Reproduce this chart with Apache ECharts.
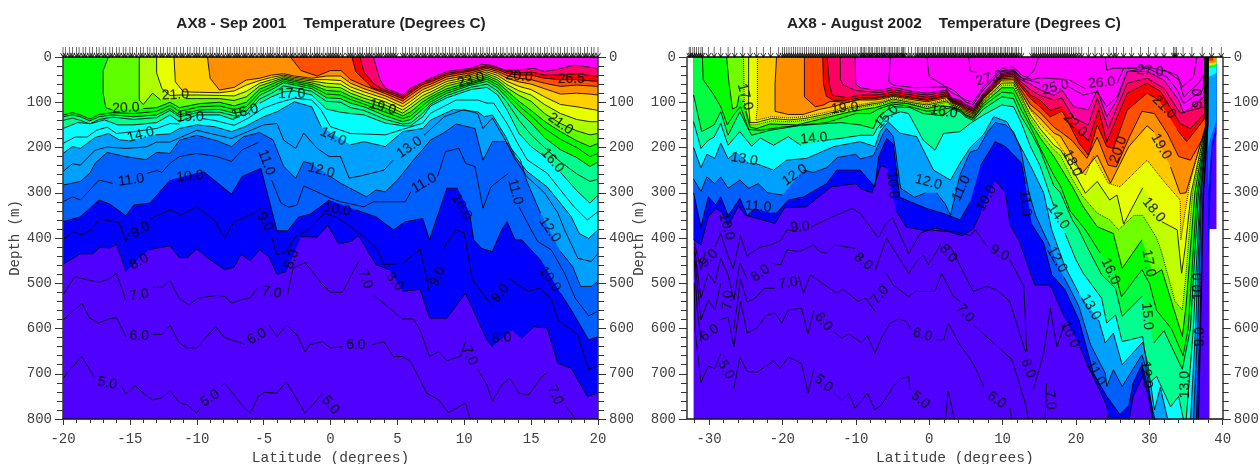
<!DOCTYPE html>
<html><head><meta charset="utf-8"><title>AX8 Temperature</title>
<style>html,body{margin:0;background:#fff}#c{width:1260px;height:464px}</style>
<script src="https://cdn.jsdelivr.net/npm/echarts@6/dist/echarts.min.js"></script></head>
<body><div id="c"></div>
<script>
const titleA='AX8 - Sep 2001    Temperature (Degrees C)';
const titleB='AX8 - August 2002    Temperature (Degrees C)';
const depthTicks=[0,100,200,300,400,500,600,700,800];
const latMajorA=[-20,-15,-10,-5,0,5,10,15,20];
const latMinorA=[-19,-18,-17,-16,-14,-13,-12,-11,-9,-8,-7,-6,-4,-3,-2,-1,1,2,3,4,6,7,8,9,11,12,13,14,16,17,18,19];
const latMajorB=[-30,-20,-10,0,10,20,30,40];
const latMinorB=[-32,-28,-26,-24,-22,-18,-16,-14,-12,-8,-6,-4,-2,2,4,6,8,12,14,16,18,22,24,26,28,32,34,36,38];

const stationsA=[-20,-19.8,-19.5,-19.3,-19,-18.8,-18.5,-18.3,-18,-17.8,-17.5,-17.3,-17,-16.8,-16.5,-16.3,-16,-15.8,-15.5,-15.3,-15,-14.8,-14.5,-14.2,-14,-13.7,-13.5,-13.2,-13,-12.7,-12.5,-12.2,-12,-11.7,-11.5,-11.2,-11,-10.7,-10.5,-10.2,-10,-9.8,-9.5,-9.3,-9,-8.8,-8.5,-8.3,-8,-7.7,-7.5,-7.2,-7,-6.8,-6.5,-6.3,-6,-5.8,-5.5,-5.2,-5,-4.7,-4.5,-4.3,-4,-3.8,-3.5,-3.3,-3,-2.8,-2.5,-2.2,-2,-1.8,-1.5,-1.2,-1,-0.8,-0.5,-0.2,0,0.2,0.4,0.6,0.9,1.3,1.5,1.7,2,2.2,2.4,2.7,2.9,3.1,3.4,3.6,3.8,4.1,4.3,4.5,4.7,4.9,5.4,5.6,5.9,6.1,6.4,6.6,6.9,7.1,7.4,7.6,7.9,8.1,8.4,8.6,8.9,9.1,9.4,9.6,9.9,10.1,10.4,10.7,10.9,11.2,11.4,11.7,11.9,12.2,12.4,12.7,12.9,13.2,13.5,13.7,14,14.2,14.5,14.7,15,15.2,15.5,15.7,16,16.2,16.5,16.7,17,17.2,17.5,17.7,18,18.2,18.5,18.7,19,19.2,19.5,19.7,20];
const stationsB=[-32.7,-32.5,-32.2,-32,-31.7,-31.4,-31.1,-30.9,-30.1,-29.3,-28.4,-27.4,-26.5,-25.4,-24.4,-23.5,-22.6,-21.6,-20.5,-20,-19.7,-19.4,-19.1,-18.8,-18.5,-18.2,-17.9,-17.6,-17.3,-17,-16.7,-16.4,-16.1,-15.8,-15.5,-15.2,-14.9,-14.6,-14.3,-14,-13.7,-13.4,-13.1,-12.8,-12.5,-12.2,-11.9,-11.6,-11.3,-11,-10.7,-10.4,-10.1,-9.8,-9.4,-9.2,-9,-8.8,-8.6,-8.3,-8.1,-7.9,-7.7,-7.4,-7.2,-7,-6.8,-6.5,-6.3,-6.1,-5.9,-5.6,-5.4,-5.2,-5,-4.7,-4.5,-4.3,-4.1,-3.8,-3.6,-3.5,-3.3,-2.8,-2.4,-1.9,-1.6,-1.4,-1.1,-0.9,-0.6,-0.4,-0.1,0.1,0.4,0.6,0.9,1.1,1.4,1.6,1.9,2.1,2.4,2.6,2.9,3.1,3.4,3.6,3.9,4.2,4.4,4.7,4.9,5.2,5.4,5.7,5.9,6.2,6.4,6.7,6.9,7.2,7.4,7.7,7.9,8.2,8.4,8.7,8.9,9.2,9.4,9.7,9.9,10.2,10.4,10.7,10.9,11.2,11.4,11.7,11.9,12.2,12.6,14,14.3,14.6,14.9,15.2,15.5,15.8,16.1,16.4,16.7,17,17.3,17.6,17.9,18.2,18.5,18.8,19.1,19.4,19.7,20,20.4,20.8,21.7,22.6,23.5,24.5,25.1,25.5,26.5,27.6,28.8,29.9,30.9,32,33.3,33.5,33.7,34.6,35.8,37.2,38.5,39.8];

/* Sep 2001 isotherms: [latitude, depth]; null = contour broken by its label */
const a05=[[-20,710],[-18.6,661],[-17.7,706],null,[-15.6,728],[-15.3,745],[-14.6,726],[-14,743],[-13.3,758],[-12.6,753],[-12,737],[-11.3,764],[-10.7,769],[-10,787],[-9.7,773],null,[-8.2,728],[-7.9,721],[-7.2,747],[-6.5,773],[-6,787],[-5.4,750],[-4.9,741],[-4,743],[-3.3,717],[-2.7,747],[-1.9,787],[-1,758],[-0.6,742],null,[0.8,810]];
const a06=[[-20,581],[-18.6,544],[-18,577],[-17.3,588],[-16.6,579],[-16,576],[-15.3,618],null,[-13.3,613],[-12.6,613],[-12,593],[-11.3,632],[-10.7,643],[-10,643],[-8.6,596],[-7.9,620],[-6.4,635],null,[-4.6,592],[-4,618],[-3.3,593],[-2.5,614],[-1.9,652],[-1.6,636],[-0.6,629],[0,643],[0.9,640],null,[3.1,636],[4,629],[4.7,662],[5.4,662],[6,673],[7.2,743],[8.1,758],[8.8,786],[10.1,765],[10.5,805]];
const a07=[[-20,526],[-19.1,485],[-18,494],[-17.3,498],[-16.6,491],[-16,478],[-15.3,538],null,[-13.3,509],[-12.6,509],[-12,494],[-11.3,534],[-10.6,548],[-9.9,533],[-8.5,527],[-7.9,529],[-7.4,544],[-6.7,537],[-6,532],[-5.4,509],null,[-3.2,523],[-2.8,467],[-1.9,454],[-0.7,500],[0,520],[0.9,520],[1.5,485],[2.1,453],null,[3.2,526],[4.4,555],[5.4,579],[6.2,579],[6.7,603],[7.4,662],[8.1,651],[8.7,671],[9.7,662],[10.1,629],null,[11,690],[11.7,725],[12.1,761],[12.8,725],[13.4,710],[14.1,743],[14.8,747],[15.7,710],[16.1,699],null,[17.6,772],[18.2,795],[18.4,810]];
const a08=[[-20,458],[-18.7,435],[-17.8,435],[-17.2,420],[-16.5,422],[-16,414],[-15.3,474],null,[-13.6,426],[-12,417],[-11.3,443],[-10.7,443],[-10,424],[-9,448],[-7.9,470],[-7.2,464],[-6.7,436],[-6,450],[-5.3,426],[-4.6,442],[-4,480],[-3.3,474],null,[-2.2,397],[-1,398],[-0.2,372],[0.6,413],[1.5,408],[2.1,395],[3.4,459],[4.4,470],null,[5.4,518],[6.7,513],[7.4,577],[8.7,577],[10.1,522],[11.7,625],[12.1,640],null,[13.6,603],[14.3,621],[15.2,596],[16.2,599],[17,677],[18,688],[19.2,750],[20,743]];
const a09=[[-20,404],[-19.3,386],[-18.6,393],[-17.9,382],[-17.3,358],[-15.8,366],[-15.3,408],[-15,386],null,[-13.5,357],[-12,338],[-11.2,349],[-10,331],[-8.7,360],[-7.9,400],[-7.2,364],[-5.7,345],[-5.2,334],null,[-4.4,397],[-4,437],[-3.3,430],[-2.7,400],[-1.5,378],[-0.5,345],[0.3,352],[1.5,375],[2.5,397],[3.5,426],[4,459],[5.4,456],[6.7,425],[7.4,518],null,[8.4,426],[9.4,382],[10,389],[10.6,492],[12.1,551],null,[13.3,489],[14.8,518],[15.6,511],[16.5,533],[17,581],[18.5,614],[19.3,691],[20,680]];
const a10=[[-20,364],[-18.7,353],[-17.3,316],[-16.5,325],[-15.3,351],[-14.7,327],[-13.5,323],[-12,272],null,[-9.5,253],[-7.4,303],[-6.6,264],[-5.2,246],[-4,384],[-3.2,384],[-2.4,354],[-1.5,347],[-0.1,316],null,[1.9,338],[3.4,353],[4.7,382],[5.6,364],[6.9,357],[7.4,404],[8.7,290],[9.5,290],null,[10.4,345],[10.7,404],[11.3,423],[12.1,430],[12.8,382],[13.2,364],[13.8,404],[14.3,404],[15.8,452],null,[17.2,522],[18,559],[19.3,625],[20,618]];
const a11=[[-20,320],[-19.3,309],[-18.7,316],[-17.3,272],[-16.3,279],null,[-13.7,257],[-13,251],[-12.6,255],[-12,235],[-11.3,220],[-10,213],[-8.5,220],[-7.4,231],[-6.6,205],[-5.4,189],null,[-4.4,272],[-3.7,323],[-3.1,332],[-2.5,327],[-2,285],[-1,298],[0,312],[0.75,320],[2.5,331],[3.2,320],[5.6,320],[6,298],null,[8,264],[8.6,209],[9.6,202],[10.1,235],[10.8,242],[11.4,334],[12,287],[13.3,257],null,[14.1,331],[15,382],[15.5,408],[16.5,426],[17.5,478],[18.3,533],[19.3,572],[20,562]];
const a12=[[-20,283],[-18.7,275],[-18,257],[-17.6,235],[-16.7,211],[-15.3,220],[-13.8,227],[-13,211],[-12,213],[-11.3,184],[-10,173],[-8.5,185],[-7.4,198],[-6.5,176],[-5.3,167],[-4.3,183],[-3.5,242],[-2.6,268],[-2,231],[-1.5,235],null,[0,264],[0.75,279],[2.7,309],[3.4,294],[4.1,298],[5,272],[6.2,228],[7.5,183],[8.5,167],[9.4,148],[10.8,158],[11.4,228],[12.1,187],[13.1,187],[14.2,228],[14.7,276],[15.7,345],null,[17.2,430],[18.1,463],[18.7,507],[19.5,507],[20,496]];
const a13=[[-20,253],[-19.3,236],[-18.7,239],[-17.6,206],[-16.7,199],[-15.3,202],[-13.8,199],[-13,188],[-12,188],[-10,162],[-7.4,180],[-5,150],[-4,147],[-3.5,184],[-2.6,202],[-2,168],[-1,202],[-0.1,220],[0.75,220],[1.4,268],[2.5,261],[4,250],[4.7,228],null,[7,173],[8.5,132],[10,116],[11,125],[11.4,158],[12.1,135],[13,180],[13.8,226],[14.7,265],[16,300],[17,345],[17.5,382],[18.5,445],[19.5,452],[20,434]];
const a14=[[-20,213],[-19.3,198],[-18.7,202],[-17.6,178],[-16.6,169],[-15.8,183],[-15.1,185],null,[-13.1,172],[-12,170],[-11.3,158],[-10,150],[-8.7,154],[-7.4,165],[-6.4,154],[-5,132],[-4,121],[-2.7,99],[-1.4,110],[-0.7,154],null,[1.5,194],[2.5,187],[4.1,198],[5.4,165],[6.9,158],[7.5,139],[9.2,116],[11,121],[11.5,132],[12.1,128],[13.1,176],[13.8,220],[14.7,253],[16.2,287],[17,316],[18,353],[18.6,390],[19.3,401],[20,382]];
const a15=[[-20,191],[-19.1,177],[-18.2,177],[-17.5,162],[-16.7,155],[-16,169],[-14.7,165],[-13,158],[-12,147],[-11.3,148],null,[-9.6,136],[-8.7,140],[-7.2,151],[-6.2,136],[-5,113],[-4,102],[-2.7,91],[-1.4,95],[-0.7,117],[0,154],[1.5,169],[4.1,172],[5.4,160],[6.9,146],[7.5,124],[9.4,95],[11,95],[11.7,102],[12.2,102],[13.2,147],[14,191],[14.7,227],[16.2,257],[17.2,294],[18.2,331],[19.2,360],[20,342]];
const a16=[[-20,158],[-18.9,145],[-17.9,147],[-16.9,139],[-15.9,150],[-14.7,150],[-13,145],[-12,128],[-11.3,143],[-10,128],[-8.3,128],[-7.2,139],null,[-5.3,102],[-4.4,88],[-3.5,77],[-2.7,75],[-1.4,84],[-0.3,115],[0.75,122],[1.5,125],[2.5,128],[4.1,146],[5.4,152],[6,152],[6.9,132],[7.5,108],[8.7,90],[10.5,72],[11.7,67],[12.5,84],[13.2,117],[14.1,169],[15,198],[16,220],null,[17.2,255],[18.4,295],[19.4,323],[20,305]];
const a17=[[-20,140],[-19.3,135],[-18.7,140],[-18,148],[-17.3,138],[-16.3,133],[-14.7,138],[-13,134],[-12,118],[-11.3,132],[-9.8,122],[-8.3,122],[-7.2,130],[-6.3,128],[-5.3,93],[-4.4,80],[-3.5,64],[-2.7,68],[-1.4,76],[-0.3,98],[0.75,100],[1.5,112],[2.5,118],[4.1,138],[5.4,148],[6,146],[6.9,124],[7.5,104],[8.7,85],[10.5,67],[11.7,60],[12.5,75],[13.2,100],[14.1,140],[15,172],[16,200],[17.2,232],[18.4,258],[19.4,275],[20,270]];
const a18=[[-20,132],[-19.3,128],[-18.7,132],[-18,141],[-17.3,132],[-16.3,128],[-14.7,132],[-13,128],[-12,114],[-11.3,128],[-9.8,117],[-8.3,116],[-7.2,124],[-6.3,120],[-5.3,85],[-4.4,72],[-3.5,57],[-2.7,62],[-1.4,70],[-0.3,90],[0.75,92],[1.5,102],[2.5,110],[4.1,130],[5.4,143],[6,138],[6.9,115],[7.5,99],[8.7,80],[10.5,62],[11.7,54],[12.5,68],[13.2,90],[14.1,120],[15,146],[16,178],[17.2,205],[18.4,222],[19.4,242],[20,232]];
const a19=[[-20,128],[-19.3,123],[-18.7,128],[-18,137],[-17.3,127],[-16.3,123],[-14.7,125],[-13,120],[-12,107],[-11.3,120],[-9.8,110],[-8.3,108],[-7.2,116],[-6.3,110],[-5.3,78],[-4.4,66],[-3.5,53],[-2.7,58],[-1.4,65],[-0.3,82],[0.75,84],[1.5,94],[2.5,104],[4.1,122],[5.4,136],[6,130],[6.9,107],[7.5,93],[8.7,75],[10.5,59],[11.7,49],[12.5,62],[13.2,82],[14.1,108],[15,130],[16,158],[17.2,182],[18.4,200],[19.4,220],[20,213]];
const a20=[[-16.6,0],[-17,30],[-17,80],[-16.8,112],[-16.3,117],null,[-14,114],[-13,112],[-12,100],[-11.3,112],[-9.8,103],[-8.3,100],[-7.2,108],[-6.3,100],[-5.3,71],[-4.4,60],[-3.5,49],[-2.7,54],[-1.4,61],[-0.3,74],[0.75,76],[1.5,87],[2.5,98],[4.1,113],[5.4,130],[6,121],[6.9,99],[7.5,88],[8.7,70],[10.5,55],[11.7,45],[12.5,56],[13.2,75],[14.1,98],[15,118],[16,142],[17.2,165],[18.4,185],[19.4,198],[20,191]];
const a21=[[-14.3,0],[-14.3,60],[-14.3,95],[-14,105],[-13.3,80],[-12.7,95],null,[-10.8,92],[-10,92],[-8.3,92],[-7.2,96],[-6.3,88],[-5.3,64],[-4.4,55],[-3.5,46],[-2.7,51],[-1.4,57],[-0.3,66],[0.75,68],[1.5,80],[2.5,91],[4.1,106],[5.4,124],[6,112],[6.9,92],[7.5,83],[8.7,64],[10.5,51],[11.7,41],[12.5,51],[13.2,68],[14.1,85],[15,98],[16,125],[17.2,147],[18.4,163],[19.4,172],[20,169]];
const a22=[[-13,0],[-13,35],[-12.6,70],[-12,85],[-11.2,84],[-10,84],[-8.3,85],[-7.2,86],[-6.3,76],[-5.3,58],[-4.4,50],[-3.5,43],[-2.7,48],[-1.4,53],[-0.3,58],[0.75,60],[1.5,73],[2.5,84],[4.1,99],[5.4,117],[6,105],[6.9,85],[7.5,77],[8.7,59],[10.5,47],[11.7,37],[12.5,46],[13.2,61],[14.1,75],[15,84],[16,105],[17.2,125],[18.4,138],[19.4,143],[20,143]];
const a23=[[-11.7,0],[-11.6,55],[-11,77],[-9.8,78],[-8.3,79],[-7.2,75],[-6.3,62],[-5.3,52],[-4.4,45],[-3.5,40],[-2.7,45],[-1.4,50],[-0.3,50],[0.75,52],[1.5,66],[2.5,77],[4.1,92],[5.4,110],[6,98],[6.9,78],[7.5,71],[8.7,54],[10.5,43],[11.7,33],[12.5,41],[13.2,54],[14.1,65],[15,72],[16,88],[17.2,105],[18.4,110],[19.4,115],[20,118]];
const a24=[[-9.2,0],[-9,47],[-8.3,73],[-7.2,67],[-6.3,51],[-5.3,47],[-4.4,40],[-3.5,37],[-2.7,42],[-1.4,47],[-0.3,42],[0.75,42],[1.5,58],[2.5,70],[4.1,86],[5.4,103],[6,91],[6.9,72],[7.5,65],[8.7,49],[10.5,39],[11.7,29],[12.5,36],[13.2,47],[14.1,55],[15,60],[16,70],[17.2,82],[18.4,80],[19.4,82],[20,84]];
const a25=[[-3,0],[-2.2,30],[-1,42],[0,30],[0.8,30],[1.5,50],[2.5,63],[4.1,81],[5.4,97],[6,84],[6.9,66],[7.5,60],[8.7,44],[10.5,35],[11.7,25],[12.5,32],[13.2,41],[14.1,47],[15,50],[16,58],[17.2,65],[18.4,62],[20,65]];
const a26=[[1.6,0],[1.9,33],[2.8,58],[3.1,68],[4.1,77],[5.4,92],[6,79],[6.9,61],[7.5,55],[8.7,40],[10.5,31],[11.7,22],[12.5,28],[13.2,36],[14.1,40],[15,40],[16,47],[17.2,50],[18.4,50],[20,54]];
const a265=[[2.2,0],[2.5,33],[3.2,58],[3.8,70],[4.1,73],[5.4,88],[6,74],[6.9,56],[7.5,51],[8.7,36],[10.5,28],[11.7,19],[12.5,24],[13.2,32],[14.1,35],[15,33],[16,40],[17.2,40],[18.4,37],[20,43]];
const a27=[[3.2,0],[3.7,50],[4.1,69],[5.4,84],[6,69],[7.5,47],[8.7,32],[10.5,25],[11.3,16],[12.2,19],[13,29],[14,29],[15.2,25],[16,32],[17,27],[18.2,18],[20,25]];
const aCold=[[-20,820],[20,820]];

/* August 2002 isotherms */
const bCold=[[-32.1,820],[38.2,820],[38.2,380],[39.15,380],[39.15,0]];
const b05=[[-32,500],[-31.9,603],[-31.1,719],[-30.1,683],[-29.2,688],[-28.4,656],null,[-26.6,732],[-25.8,663],[-24.8,695],[-23.5,697],[-21.2,671],[-20.3,688],[-19.2,663],[-17.4,677],[-16.5,743],[-15.7,688],null,[-13,743],[-11.9,759],[-11,743],[-10.1,776],[-8.4,743],[-7.4,780],[-6.5,769],[-4.9,728],[-3.7,710],[-2.8,706],[-2.6,736],null,[0.6,798],[2.2,805],[2.6,739],[3.5,805]];
const b06=[[-32,450],[-31.6,560],[-31,636],null,[-28.6,581],[-27.4,575],[-26.6,640],[-25.7,540],[-24.8,610],[-23.5,599],[-22.1,570],[-21,566],[-20.1,588],[-19.2,559],[-17.4,555],[-16.5,612],[-15.7,559],null,[-13,607],[-11.9,621],[-11,612],[-9.2,631],[-8.4,616],[-7.4,655],[-6.5,621],[-5.3,588],[-4.2,579],[-3,585],[-2.6,600],null,[1,625],[2,625],[2.6,588],[4.2,636],[4.7,647],[6,677],[7.4,728],null,[11,776],[11.3,805]];
const b07=[[-32,430],[-31.6,500],[-31.1,581],[-30.1,537],[-29.2,559],[-28.4,500],null,[-26.6,600],[-25.7,490],[-24.8,542],[-23.7,533],[-22.5,511],[-21,511],null,[-17.8,485],[-17.1,522],[-16.2,481],[-14.9,496],[-12.6,522],[-11.7,513],[-9.7,540],[-8.6,533],[-7.4,562],null,[-5.8,478],[-4.9,504],[-2.8,529],[-1.9,518],[0.8,518],[1.7,478],[3.3,529],[4.2,540],null,[6,592],[8.8,632],[11.3,669],[13.1,765],[13.6,805],null,[15.8,800],[16,721]];
const b08=[[-32,420],[-31.6,470],[-31.1,533],[-30.1,478],[-29.2,500],[-28.4,445],[-27.4,481],[-26.6,537],[-25.8,455],[-24.8,490],null,[-21.5,456],[-20.2,459],[-19.4,426],[-17.8,430],[-16.7,423],[-15.8,415],[-14.9,430],[-14,434],[-12.8,415],[-10.1,423],null,[-7.4,474],[-5.8,400],[-2.8,478],[-1.7,452],[-0.8,437],[-0.1,459],[1,430],[1.6,411],null,[2.9,419],[6,518],[7.9,507],[9.2,515],[11,540],[13.1,651],null,[14.2,736],[15.6,655],[16.5,555],[17.4,640],[18.5,588]];
const b09=[[-32,410],[-31.1,470],[-30.5,430],null,[-29.2,420],[-28.4,390],[-27.4,440],[-26.7,468],[-25.7,395],[-24.8,440],[-24,430],[-23,420],[-21.5,415],[-20.2,405],[-19.4,382],[-18,385],null,[-16,375],[-13.7,357],[-10.5,335],[-9.4,345],[-7.6,385],[-6.9,400],[-6,370],[-5,355],[-2.8,435],[-1.2,389],[0,382],[1.9,385],[3.5,385],[5.6,395],[6.3,382],[7.9,419],null,[11,448],[12.9,507],[13.3,651]];
const b10=[[-32.1,404],[-31.1,415],[-30.1,353],[-29.1,335],[-28.3,342],[-27.4,372],[-26,330],[-25,350],[-23.4,357],[-21,368],[-19.7,333],[-16.7,331],[-13.4,287],[-10,280],[-9.2,292],[-7.8,300],[-6.6,240],[-5.7,245],null,[-4.5,340],[-3.1,376],[-0.3,384],[1,378],[4.5,395],[6,380],[7,345],null,[9,272],[10.4,300],[11,370],[12.2,404],[14.4,504],[16.5,504],[18.5,577],null,[20.4,636],[21.5,677],[24.2,770],[24.5,805],[27.2,805],[27.8,750],[29.1,705],[29.8,745],[30.5,805],[36.7,805],[37,600],[37.4,300],[38,150],[38.05,0]];
const b11=[[-32.1,300],[-31.1,375],[-30.1,309],[-29.1,327],[-28.4,309],[-27.4,350],[-26.7,335],[-25.8,312],[-24.8,350],[-23.8,335],null,[-21.5,345],[-20.8,345],[-19.2,316],[-17.1,309],[-14,280],[-12.6,250],[-9.4,250],[-7.4,287],[-6.9,221],[-5.8,180],[-4.9,192],[-4,310],[-0.3,335],[2,346],[4.2,360],[5.6,320],null,[7,240],[9,187],[10.4,198],[12.6,235],[13.1,280],null,[14,370],[15.6,411],[16.7,481],[18.5,514],[20.4,581],[22.4,699],[24.2,750],[26,790],[27.2,770],[27.8,720],[29,680],[29.6,715],[30.8,805],[36.4,805],[36.9,600],[37.3,300],[37.97,150],[38.02,0]];
const b12=[[-32.1,270],[-31.1,297],[-30.3,265],[-29.2,280],[-28.4,265],[-27.4,290],[-25.8,272],[-24.6,290],[-23.3,280],[-22,300],[-20,305],null,[-17.1,250],[-15.8,255],[-14,245],[-12.5,222],[-10,215],[-9.4,225],[-7.6,218],[-7.1,200],[-6.3,170],[-5.8,158],[-4.9,175],[-4.6,205],[-3.9,290],[-2,310],[-0.5,300],null,[1,300],[2.2,325],[2.9,350],[4.2,260],[5.6,210],[6.6,205],[8,165],[9,145],[10.4,150],[11.5,165],[12.5,205],[13,250],[13.6,300],[14.5,350],[15.5,385],[16.5,419],null,[18.3,485],[19.5,522],[20.4,551],[22,636],[24,699],[24.2,728],[25.1,691],[26.3,728],[29,658],[29.5,684],[30.6,802],[36,805],[36.6,600],[37.1,300],[37.94,150],[37.99,0]];
const b13=[[-32.1,200],[-31.1,245],[-30.3,215],[-29.2,224],[-28.4,190],[-27.4,225],[-26.3,210],null,[-24.5,235],[-23.7,235],[-21.2,250],[-19.4,228],[-16.7,224],[-13,198],[-9.4,187],[-7.4,198],[-6.7,165],[-5.6,143],[-4,168],[-1.7,176],[0.6,250],[2.9,272],[4.2,235],[5.6,200],[7.4,172],[8.8,132],[10.6,143],[12,184],[13.8,240],[15.6,300],[16.7,382],[18.5,463],[20.4,522],null,[23.1,581],[24,632],[25.1,610],[26.3,680],[29.1,630],[29.8,680],[30.7,780],[31.5,730],[32.5,800],[33.5,805],[35.6,805],[36.3,600],[37,300],[37.91,150],[37.96,0]];
const b14=[[-32.1,143],[-31.1,202],[-30.1,184],[-29.3,177],[-28.4,147],[-27.4,195],[-25.8,165],[-24.2,197],[-23,179],[-21.2,195],[-19.2,176],[-17.5,195],null,[-14.2,184],[-12.1,180],[-9.4,173],[-7.6,173],[-7.1,158],[-5.8,132],[-3.9,121],[-2.8,125],[-0.8,184],[0.8,206],[1.95,169],[4.2,165],[5.6,147],[7.4,128],[9.9,106],[11.5,110],[12.5,143],[13.8,198],[15.1,240],[17,330],null,[18.5,389],[20,448],[21,478],[23.5,533],[24.2,588],[25.4,570],[26.3,629],[29.1,618],[30,720],[31,706],[32.9,773],[34,750],[34.7,805],[35,805],[36,600],[36.9,300],[37.88,150],[37.93,0]];
const b15=[[-32.1,84],[-31,165],[-29.3,150],[-28.4,121],[-27.4,173],[-25.8,121],[-24.2,173],[-21.7,162],[-17.5,151],[-12,145],[-9.4,150],[-7.6,158],[-6.9,132],[-5.8,118],[-4.9,110],[-2.6,112],[-0.8,125],[1.9,130],[3.1,115],[4.2,121],[5,133],[6,140],[7.4,115],[9.9,88],[11.5,92],[12.5,130],[13.8,165],[15.1,205],[17,285],[17.9,300],[19.5,360],[20.4,382],[21.5,419],[23.5,481],[25.4,511],[26.3,573],[29,529],null,[30.6,632],[32,605],[34.5,690],[35.6,600],[36.7,300],[37.85,150],[37.9,0]];
const b16=[[-30.9,0],[-30.8,50],[-29.5,80],[-28.4,110],[-27.5,150],[-26.5,125],[-25.7,110],[-24.6,160],[-23,162],[-20,155],[-14,145],[-10,125],[-8,125],[-6.9,115],[-6,110],[-5,104],[-3,108],[-0.3,120],[1,118],[3.1,112],[4.2,118],[5,130],[6,136],[7.4,108],[9.9,78],[11.5,80],[12.5,115],[13.8,154],[15.1,200],[17,262],[17.9,285],[19.2,340],[21.3,382],[23.3,433],null,[25.4,480],[26.2,530],[29,470],[30,500],[31,560],[33,600],[34.6,660],[35.3,600],[36.5,300],[37.82,150],[37.87,0]];
const b17=[[-27.6,0],[-27.3,55],[-26.8,115],[-26.2,110],[-25.9,85],null,[-25,120],[-24.4,155],[-23.5,158],[-21.7,148],[-18,150],[-15,138],[-11,122],[-9,116],[-7.4,112],[-6.5,108],[-5,100],[-2.9,103],[-0.3,114],[1.3,108],[3.1,110],[4.2,116],[5,128],[6,134],[7.4,103],[9.9,68],[11.5,68],[12.5,100],[13.8,145],[15.1,178],[17,220],[19.5,286],[21,331],[22.9,375],[25.1,390],[26.3,467],[29,404],null,[30.6,481],[31.7,470],[34.5,618],[35,550],[36.2,300],[37.79,150],[37.84,0]];
const b175=[[-25.3,0],[-25.2,100],[-24.4,150],[-23.6,150],[-21.5,141],[-19,143],[-17,140],[-14.5,132],[-11,116],[-7.5,106],[-6.5,104],[-4.9,96],[-2,105],[-0.3,110],[2.4,100],[3.1,108],[4.2,114],[5,126],[6,132],[7.4,100],[9.9,62],[11.5,62],[12.5,92],[13.8,135],[15.1,168],[17,205],[17.9,218],[19.5,270],[21,310],[22.9,345],[24.6,360],[25.8,382],[27.9,350],[29.1,350],[31,400],[31.7,433],[33.5,540],[34.5,559],[35,480],[35.9,300],[37.76,150],[37.81,0]];
const b18=[[-24.6,0],[-24.6,110],[-24.4,145],[-23.6,145],[-21.5,136],[-19,139],[-17,136],[-14.5,128],[-11,113],[-7.5,103],[-6.5,101],[-4.9,93],[-2,102],[-0.3,106],[2.4,97],[3.1,106],[4.2,112],[5,124],[6,130],[7.4,97],[9.9,58],[11.5,57],[12.5,86],[13.8,128],[15.1,158],[17,195],[17.9,205],[19.9,260],[21.3,301],[22.9,275],[24.6,316],[25.6,305],[26.5,369],[29.1,289],null,[31.7,364],[33.8,382],[34.4,478],[34.9,420],[35.7,300],[37.73,150],[37.78,0]];
const b185=[[-23.4,0],[-23.4,110],[-23.6,140],[-21.5,132],[-19,135],[-17,132],[-14.5,124],[-11,110],[-7.5,100],[-6.5,98],[-4.9,90],[-2,99],[-0.3,103],[2.4,94],[3.1,104],[4.2,110],[5,122],[6,128],[7.4,95],[9.9,54],[11.5,53],[12.5,82],[13.8,117],[15.1,148],[17,180],[19.2,228],[21.3,261],[22.4,220],[24.4,279],[26,287],[29.7,228],[32,275],[34.2,316],[34.3,404],[34.8,350],[35.5,280],[37.7,150],[37.75,0]];
const b19=[[-20.8,0],[-21,60],[-21,120],[-19.2,127],[-17.2,127],[-15,116],[-13.2,110],[-10,95],[-7.5,95],[-6.5,93],[-4.9,87],[-2,95],[-0.3,99],[2.4,90],[3.1,102],[4.2,108],[5,120],[6,126],[7.4,92],[9.9,51],[11.5,50],[12.5,78],[13.8,115],[15.1,135],[17,168],[17.9,175],[19,205],[20.8,258],[22.9,217],[24.7,279],[27.2,198],[29.7,152],[30.6,165],null,[32.9,243],[34.2,302],[35,300],[37.67,155],[37.72,0]];
const b20=[[-17,0],[-17,88],[-15.5,110],[-14.4,106],[-13.5,98],[-11,100],[-9.4,93],[-7.5,92],[-6.5,90],[-4.9,85],[-2,92],[-0.3,96],[2.4,87],[3.1,100],[4.2,106],[5,117],[6,123],[7.4,90],[9.9,48],[11.5,46],[12.5,72],[13.8,105],[15.1,122],[17,155],[17.9,165],[19.5,185],[21.5,224],[22.9,177],[24.4,239],[25.5,243],[27.2,180],[29,120],[30.7,125],[32.5,170],[34,220],[35.6,228],[37.64,170],[37.69,0]];
const b21=[[-14.5,0],[-14.4,60],[-14,87],[-13,96],[-11,95],[-9.4,90],[-7.5,90],[-6.5,88],[-4.9,82],[-2,90],[-0.3,94],[2.4,85],[3.1,98],[4.2,104],[5,114],[6,120],[7.4,88],[9.9,45],[11.5,42],[12.5,65],[13.8,92],[15.1,110],[16.5,132],[18.1,120],[18.5,130],[20.4,190],[21.7,217],[22.9,150],[24.2,198],[25.1,202],[27,117],[29.7,80],[31.3,95],null,[33.8,161],[35.1,187],[37.6,135],[37.65,0]];
const b22=[[-13.9,0],[-13.6,60],[-13.2,85],[-11,90],[-9.4,84],[-7.5,84],[-6.5,83],[-4.9,77],[-2,85],[-0.3,89],[2.4,81],[3.1,96],[4.2,101],[5,111],[6,118],[7.4,85],[9.9,42],[11.5,38],[12.5,60],[13.8,84],[15.1,95],[16.5,118],[18.1,110],null,[20.8,170],[21.7,185],[23.1,117],[24.2,187],[27,80],[29.7,58],[31.5,76],[34.2,147],[35.6,158],[37.57,125],[37.62,0]];
const b23=[[-12.1,0],[-12.1,50],[-11.7,62],[-10,74],[-7.5,78],[-6.5,78],[-4.9,72],[-2,81],[-0.3,84],[2.4,77],[3.1,94],[4.2,98],[5,108],[6,115],[7.4,83],[9.9,39],[11.5,35],[12.5,55],[13.8,72],[15.1,85],[17,95],[18.1,91],[19.7,135],[21.7,150],[22.9,91],[24.4,158],[27,58],[29.7,47],[32,69],[34.2,124],[37.54,110],[37.59,0]];
const b24=[[-10.1,0],[-10,60],[-9.4,68],[-7.5,73],[-6.5,73],[-4.9,67],[-2,77],[-0.3,80],[2.4,73],[3.1,91],[4.2,95],[5,105],[6,112],[7.4,80],[9.9,36],[11.5,32],[12.5,50],[13.8,60],[15.1,72],[17,85],[18.1,73],[19.7,110],[21.7,117],[22.9,73],[24.2,132],[25.6,95],[27,32],[29.7,32],[32,51],[34,95],[34.7,124],[37.5,88],[37.55,0]];
const b25=[[-5.3,0],[-5.5,55],[-4.9,62],[-2,68],[2.4,66],[3.5,75],[5,100],[6,105],[7.4,72],[9.9,30],[11.5,27],[12.6,47],[15.1,58],null,[19,66],[21,84],[22.9,77],[24.2,110],[25.6,88],[27,32],[29.7,25],[32.4,44],[33.8,73],[34.7,103],[37.3,73],[37.5,40]];
const b26=[[-0.3,0],[0,43],[1.9,62],[3,78],[5,95],[6,100],[7.4,66],[9.9,25],[11.5,22],[12.6,40],[14,50],[15.1,46],[19,50],[21.3,70],null,[25.6,58],[26.5,25],[29.7,22],[32.4,32],[34,50],[34.7,88],[36.7,58],[37.4,40]];
const b27a=[[5.4,0],[5.6,32],[6.5,33],null,[9.7,32],[11.5,30],[13,51],[14.3,30],[14.9,0]];
const b27b=[[24,0],[24.2,29],[25.1,25],[27,25],[28.3,25],null,[32,29],[33.8,40],[34.5,66],[36,45],[36.5,0]];
/* narrow cold water band east of the front */
const e10=[[38,450],[38.6,200],[39.15,170]];
const e11=[[38,300],[38.5,190],[39.15,150]];
const e12=[[38,200],[38.5,170],[39.15,140]];
const e13=[[38,45],[39.15,35]];
const e15=[[38,25],[39.15,22]];
const e17=[[38,20],[39.15,16]];
const e19=[[38,14],[39.15,12]];
const e21=[[38,8],[38.7,8],[38.7,0]];

const levelsA=[
 [aCold,'#5000ff',0],[a05,null,1],[a06,null,1],[a07,null,1],[a08,'#0000ff',1],[a09,null,1],[a10,'#0060ff',1],[a11,null,1],[a12,'#00a0ff',1],[a13,null,1],
 [a14,'#00ffff',1],[a15,null,1],[a16,'#00ff90',1],[a17,null,1],[a18,'#00ff00',1],[a19,null,1],[a20,'#60ff00',1],[a21,'#b0ff00',1],[a22,'#e8ff00',1],[a23,'#ffd000',1],[a24,'#ff9000',1],[a25,'#ff5000',1],[a26,'#ff0000',1],[a265,'#ff0070',1],[a27,'#ff00ff',1]];
const levelsB=[
 [bCold,'#5000ff',0],[b05,null,1],[b06,null,1],[b07,null,1],[b08,null,1],[b09,null,1],[b10,'#0000ff',1],[b11,'#0060ff',1],[b12,'#00a0ff',1],[b13,'#00ffff',1],[b14,'#00ff90',1],[b15,'#00ff40',1],[b16,'#00ff00',1],
 [b17,'#70ff00',1],[b175,'#c0ff00',2],[b18,'#e8ff00',1],[b185,'#ffc800',2],[b19,'#ff9000',1],[b20,'#ff5000',1],[b21,'#ff0000',1],[b22,'#ff0060',1],[b23,'#ff00a0',1],[b24,'#ff00ff',1],[b25,null,1],[b26,null,1],[b27a,null,1],[b27b,null,1],
 [e10,'#0000ff',0],[e11,'#0060ff',0],[e12,'#00a0ff',0],[e13,'#00ffff',0],[e15,'#00ff40',0],[e17,'#c0ff00',0],[e19,'#ff9000',0],[e21,'#ff2000',0]];

const labelsA=[['20.0',-15.3,113,3],['21.0',-11.6,84,3],['14.0',-14.2,172,15],['15.0',-10.5,133,0],['16.0',-6.4,121,15],['17.0',-2.9,82,0],['14.0',0.2,176,-25],['11.0',-14.9,272,8],['10.0',-10.5,264,5],['11.0',-4.8,233,-70],['12.0',-0.7,251,-15],['9.0',-14.2,382,30],['9.0',-4.9,364,-60],['8.0',-14.3,452,30],['8.0',-2.9,447,70],['7.0',-14.3,526,10],['7.0',-4.4,520,-10],['6.0',-14.3,616,0],['6.0',-5.5,618,30],['5.0',-16.7,721,-10],['5.0',-9,754,35],['5.0',0,769,-50],['7.0',2.6,491,-70],['8.0',4.8,496,-50],['9.0',8,485,65],['6.0',1.9,636,0],['7.0',10.4,660,-65],['9.0',12.7,522,50],['8.0',12.8,621,5],['10.0',16.4,491,-55],['7.0',16.8,747,-65],['12.0',16.4,382,-55],['13.0',5.9,200,35],['11.0',7,279,30],['10.0',9.8,331,-60],['10.0',0.5,337,-10],['11.0',13.8,298,-75],['16.0',16.6,229,-50],['21.0',17.2,148,-35],['26.5',18,49,0],['20.0',14.1,43,-5],['23.0',10.5,51,15],['19.0',3.9,111,-15]];
const labelsB=[['9.0',-30,445,45],['8.0',-23,478,35],['7.0',-19.2,500,10],['7.0',-27.4,537,85],['6.0',-29.9,610,35],['6.0',-14.4,585,-50],['5.0',-27.7,691,-60],['5.0',-14.4,721,-40],['8.0',-9,452,-40],['7.0',-6.7,526,50],['6.0',-0.9,614,-15],['5.0',-1.2,758,-40],['8.0',2.6,434,-50],['10.0',-27.6,375,-75],['11.0',-23.3,331,-5],['12.0',-18.3,261,35],['13.0',-25.2,226,-10],['14.0',-15.7,180,5],['17.0',-25.1,88,-75],['19.0',-11.5,113,5],['15.0',-5.8,132,45],['16.0',2,121,-10],['12.0',-0.1,277,-15],['10.0',-5,283,-85],['9.0',-17.6,376,5],['27.0',8.2,47,15],['25.0',17.2,67,15],['26.0',23.5,57,5],['27.0',30.1,31,-5],['21.0',32,111,-45],['22.0',19.9,150,-45],['20.0',25.8,205,70],['19.0',31.6,198,-60],['18.0',30.6,338,-50],['18.0',19.5,235,-65],['14.0',17.6,353,-55],['11.0',13.1,323,-85],['10.0',7.8,312,60],['11.0',4.4,290,65],['9.0',36.7,91,90],['13.0',34.9,724,90],['9.0',36.9,618,90],['10.0',36.7,507,90],['12.0',17.4,448,-60],['9.0',9.6,433,-30],['7.0',4.9,566,-50],['16.0',24.7,474,-65],['17.0',29.9,456,-80],['15.0',29.7,573,-85],['13.0',22,553,-60],['10.0',19.2,614,-65],['11.0',22.7,699,-60],['8.0',13.5,688,-70],['12.0',29.6,702,-85],['7.0',16.5,758,-85],['6.0',9.2,758,-35]];

const mono='"Liberation Mono","DejaVu Sans Mono",monospace', sans='"Liberation Sans",Arial,sans-serif';
const axCol='#333', txtCol='#404040';
const arrow='path://M5 0V9M2.5 6L5 10L7.5 6';

function panelSeries(levels,labels,stations,xi,yi,xMin,xMax){
  const out=[];
  const base={type:'line',xAxisIndex:xi,yAxisIndex:yi,showSymbol:false,silent:true,animation:false,smooth:false};
  levels.forEach(([d,c])=>{ if(c) out.push({...base,z:2,data:d.filter(Boolean),lineStyle:{width:0,opacity:0},
    areaStyle:{color:c,opacity:1,origin:'start'}}); });
  levels.forEach(([d,c,s])=>{ if(s) out.push({...base,z:3,data:d.map(p=>p||['-','-']),connectNulls:false,
    lineStyle:{color:'#000',width:1,opacity:.85,type:s===2?'dotted':'solid'}}); });
  out.push({type:'scatter',xAxisIndex:xi,yAxisIndex:yi,z:4,silent:true,animation:false,symbolSize:0,
    data:labels.map(l=>({value:[l[1],l[2]],name:l[0],label:{rotate:l[3]}})),
    label:{show:true,position:'inside',formatter:'{b}',fontFamily:sans,fontSize:14,color:'#000',align:'center',verticalAlign:'middle',textBorderColor:'rgba(0,0,0,.35)',textBorderWidth:.5}});
  out.push({...base,z:6,clip:false,data:[[xMin,0],[xMax,0]],lineStyle:{color:'#000',width:1.5}});
  out.push({type:'scatter',xAxisIndex:xi,yAxisIndex:yi,z:7,silent:true,animation:false,clip:false,symbol:arrow,symbolSize:[5,10],symbolOffset:[0,-5],
    itemStyle:{color:'rgba(0,0,0,0)',borderColor:'#000',borderWidth:1},data:stations.map(v=>[v,0])});
  return out;
}
function xAxes(gi,min,max,majors,minors){
  return [
   {gridIndex:gi,type:'value',position:'bottom',min,max,splitLine:{show:false},z:6,
    axisLine:{show:true,onZero:false,lineStyle:{color:'#111',width:1.5}},
    axisTick:{show:true,length:6,customValues:majors,lineStyle:{color:axCol}},
    axisLabel:{show:true,customValues:majors,margin:13,fontFamily:mono,fontSize:14,color:txtCol,hideOverlap:false,formatter:v=>String(v)},
    name:'Latitude (degrees)',nameLocation:'middle',nameGap:31,nameTextStyle:{fontFamily:mono,fontSize:14.6,color:txtCol}},
   {gridIndex:gi,type:'value',position:'top',offset:-362,min,max,splitLine:{show:false},z:6,
    axisLine:{show:false,onZero:false},axisLabel:{show:false},
    axisTick:{show:true,inside:true,length:4,customValues:minors,lineStyle:{color:axCol}}}];
}
function yAxes(gi,nameZ){
  const common={gridIndex:gi,type:'value',inverse:true,min:0,max:800,interval:100,splitLine:{show:false},
    axisLine:{show:true,onZero:false,lineStyle:{color:axCol,width:1.5}},axisTick:{show:true,length:8,lineStyle:{color:axCol}},
    minorTick:{show:true,splitNumber:5,length:6,lineStyle:{color:axCol}},
    axisLabel:{show:true,margin:11,fontFamily:mono,fontSize:14,color:txtCol,customValues:depthTicks}};
  return [{...common,position:'left',z:nameZ,name:'Depth (m)',nameLocation:'middle',nameGap:41,nameRotate:90,nameTextStyle:{fontFamily:mono,fontSize:14,color:txtCol}},
          {...common,position:'right',z:6}];
}
const tStyle={fontFamily:sans,fontSize:15.35,fontWeight:'bold',color:'#222'};
const chart=echarts.init(document.getElementById('c'),null,{renderer:'canvas'});
chart.setOption({
  animation:false,backgroundColor:'#fff',
  title:[{text:titleA,left:326,top:11,textAlign:'center',textStyle:tStyle},{text:titleB,left:949,top:11,textAlign:'center',textStyle:tStyle}],
  grid:[{left:63,top:57,width:535,height:362,outerBoundsMode:'none'},{left:687,top:57,width:535.7,height:362,outerBoundsMode:'none'}],
  xAxis:[...xAxes(0,-20,20,latMajorA,latMinorA),...xAxes(1,-33,40,latMajorB,latMinorB)],
  yAxis:[...yAxes(0,6),...yAxes(1,60)],
  series:[...panelSeries(levelsA,labelsA,stationsA,0,0,-20,20),...panelSeries(levelsB,labelsB,stationsB,2,2,-33,40)],
  graphic:[{type:'rect',z:50,silent:true,shape:{x:633,y:45,width:14,height:395},style:{fill:'#fff'}}]
});
</script></body></html>
